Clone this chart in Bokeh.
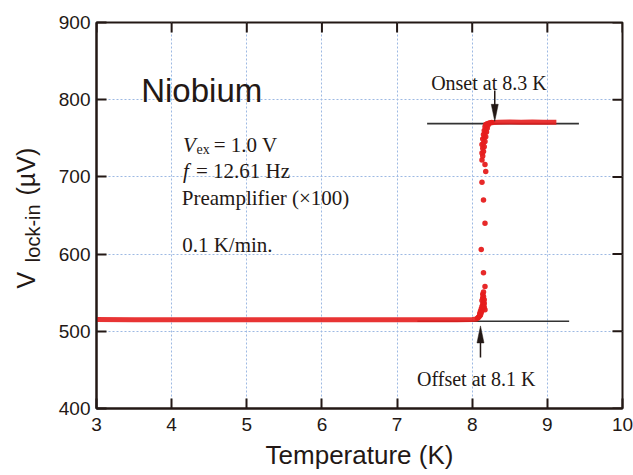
import math
from bokeh.plotting import figure
from bokeh.models import Label, FixedTicker, Range1d
from bokeh.embed import file_html
from bokeh.resources import INLINE

# ---------------- data ----------------
x_ticks = [3, 4, 5, 6, 7, 8, 9, 10]
y_ticks = [400, 500, 600, 700, 800, 900]

# normal-state plateau below Tc (dense points, drawn as a thick trace)
low_T = [2.99, 3.5, 4.0, 4.5, 5.0, 5.5, 6.0, 6.5, 7.0, 7.5, 7.8, 8.0, 8.07]
low_V = [515.2, 515.0, 515.1, 514.9, 515.0, 515.1, 515.0, 514.9, 515.0, 515.1, 515.0, 515.3, 516.0]

# plateau above the transition
high_T = [8.24, 8.35, 8.5, 8.65, 8.8, 8.95, 9.12]
high_V = [770.0, 770.8, 771.0, 770.9, 771.0, 770.8, 770.9]

# individual points through the transition
trans_T = [8.07, 8.08, 8.09, 8.10, 8.11, 8.10, 8.12, 8.11, 8.13, 8.12, 8.14, 8.13,
           8.15, 8.14, 8.16, 8.15, 8.13, 8.16, 8.14, 8.15, 8.14, 8.15, 8.17, 8.16,
           8.17, 8.15, 8.12, 8.17, 8.15, 8.13, 8.18, 8.17, 8.13,
           8.14, 8.13, 8.15, 8.14, 8.16, 8.13, 8.15, 8.17, 8.14, 8.16, 8.18, 8.15,
           8.17, 8.19, 8.16, 8.18, 8.20, 8.17, 8.19, 8.21, 8.18, 8.20, 8.22, 8.24, 8.26]
trans_V = [517, 518, 519, 520, 521, 523, 524, 526, 527, 529, 530, 532,
           533, 535, 536, 538, 540, 541, 543, 545, 548, 551, 528, 531,
           558, 576, 606, 640, 670, 693, 707, 716, 722,
           727, 731, 733, 737, 739, 742, 744, 746, 749, 751, 752, 755,
           757, 758, 760, 762, 763, 765, 766, 767, 768, 769, 769.5, 770, 770.5]

# guide lines (baselines) and arrows
offset_line_T = [7.27, 9.29]
offset_line_V = [513, 513]
onset_line_T = [7.40, 9.42]
onset_line_V = [769, 769]
onset_arrow_T = 8.30
onset_arrow_V = (812, 772)
offset_arrow_T = 8.11
offset_arrow_V = (466, 507)

# ---------------- figure ----------------
INK = "#231815"
RED = "#e61e1e"
SERIF = "Liberation Serif"
SANS = "Liberation Sans"

x0, x1, y0, y1 = 3, 10, 400, 900
W, H = 633, 475
ML, MR, MT, MB = 96, 11, 22, 67
frame_w = W - ML - MR
frame_h = H - MT - MB
px_per_K = frame_w / (x1 - x0)
px_per_uV = frame_h / (y1 - y0)
tick_len = 10

p = figure(width=W, height=H, x_range=Range1d(x0, x1), y_range=Range1d(y0, y1),
           output_backend="svg", toolbar_location=None,
           min_border_left=ML, min_border_right=MR, min_border_top=MT, min_border_bottom=MB)
p.outline_line_color = INK
p.outline_line_width = 2
p.background_fill_color = "white"

xax = p.below[0]
yax = p.left[0]
for ax, tk in [(xax, x_ticks), (yax, y_ticks)]:
    ax.ticker = FixedTicker(ticks=tk)
    ax.axis_line_color = INK
    ax.axis_line_width = 2
    ax.major_tick_line_color = INK
    ax.major_tick_line_width = 2
    ax.major_tick_in = tick_len
    ax.major_tick_out = 0
    ax.minor_tick_line_color = None
    ax.major_label_text_font = SANS
    ax.major_label_text_font_size = "19px"
    ax.major_label_text_color = INK
xax.major_label_standoff = 9
yax.major_label_standoff = 6

xax.axis_label = "Temperature (K)"
xax.axis_label_text_font = SANS
xax.axis_label_text_font_size = "26px"
xax.axis_label_text_font_style = "normal"
xax.axis_label_text_color = INK
xax.axis_label_standoff = 6

for g in (p.xgrid[0], p.ygrid[0]):
    g.grid_line_color = "#9db9e3"
    g.grid_line_dash = "2 2"
    g.grid_line_width = 1

# mirrored inward ticks on the top and right edges
p.segment(x0=x_ticks, y0=[y1] * len(x_ticks), x1=x_ticks,
          y1=[y1 - tick_len / px_per_uV] * len(x_ticks), line_color=INK, line_width=2)
p.segment(x0=[x1] * len(y_ticks), y0=y_ticks, x1=[x1 - tick_len / px_per_K] * len(y_ticks),
          y1=y_ticks, line_color=INK, line_width=2)

# guide lines
p.line(offset_line_T, offset_line_V, line_color="#333333", line_width=1.6)
p.line(onset_line_T, onset_line_V, line_color="#333333", line_width=1.6)

# data
p.line(low_T, low_V, line_color=RED, line_width=5, alpha=0.9)
p.line(high_T, high_V, line_color=RED, line_width=5, alpha=0.9)
p.scatter(trans_T, trans_V, size=5.5, fill_color=RED, line_color=None, alpha=0.95)

# arrows (shaft + slender filled head)
head_len = 17 / px_per_uV
head_half = 3.5 / px_per_K
for xa, (ys, ye) in [(onset_arrow_T, onset_arrow_V), (offset_arrow_T, offset_arrow_V)]:
    d = 1 if ye > ys else -1
    p.line([xa, xa], [ys, ye - d * head_len * 0.5], line_color=INK, line_width=1.5)
    p.patch([xa - head_half, xa, xa + head_half], [ye - d * head_len, ye, ye - d * head_len],
            fill_color=INK, line_color=INK, line_width=0.5)

def lab(x, y, text, size, font=SERIF, style="normal", align="left", angle=0, place="center"):
    p.add_layout(Label(x=x, y=y, text=text, text_font=font, text_font_size=size,
                       text_font_style=style, text_align=align, text_baseline="alphabetic",
                       text_color=INK, angle=angle), place)

lab(3.595, 812, "Niobium", "33px", font=SANS)

lab(4.150, 741.6, "V", "21px", style="italic")
lab(4.330, 736.1, "ex", "14px")
lab(4.560, 741.6, "= 1.0 V", "21px")
lab(4.150, 707.0, "f", "21px", style="italic")
lab(4.324, 707.0, "= 12.61 Hz", "21px")
lab(4.135, 672.4, "Preamplifier (\u00d7100)", "21px")
lab(4.140, 612.0, "0.1 K/min.", "21px")

lab(8.222, 822, "Onset at 8.3 K", "20px", align="center")
lab(8.054, 438.5, "Offset at 8.1 K", "20px", align="center")

# y-axis title (in the left panel so it is not clipped by the frame)
NB = "\u00a0"
lab(2.060, 555.4, "V" + NB * 11 + "(\u00b5V)", "25px", font=SANS, angle=math.pi / 2, place="left")
lab(2.150, 589.6, "lock-in", "20px", font=SANS, angle=math.pi / 2, place="left")

open("out.html", "w").write(file_html(p, INLINE))
